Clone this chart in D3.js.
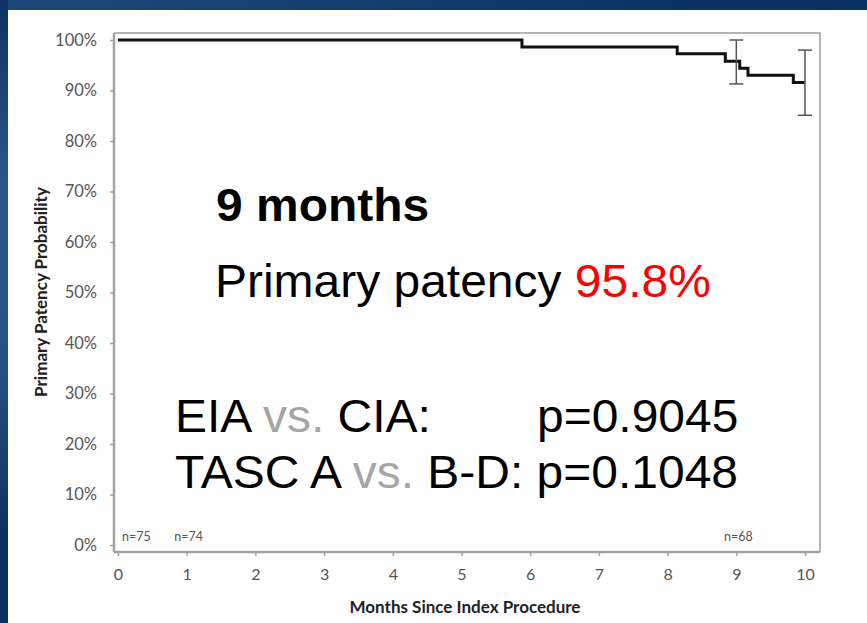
<!DOCTYPE html>
<html>
<head>
<meta charset="utf-8">
<script src="https://cdn.jsdelivr.net/npm/d3@7"></script>
<style>
  html, body { margin: 0; padding: 0; background: #0c3262; }
  svg { display: block; }
</style>
</head>
<body>
<div id="chart"></div>
<script>
// ---- data ----
const stepMonths = [0, 5.88, 8.14, 8.84, 9.05, 9.17, 9.83, 10];
const stepSurvival = [100, 98.6, 97.3, 95.8, 94.4, 93.0, 91.6, 91.6];
const ciMonths = [9, 10];
const ciLower = [91.3, 85.1];
const ciUpper = [100, 98.0];
const yTickValues = [0, 10, 20, 30, 40, 50, 60, 70, 80, 90, 100];
const xTickValues = [0, 1, 2, 3, 4, 5, 6, 7, 8, 9, 10];
const riskMonths = [0, 1, 9];
const riskLabels = ["n=75", "n=74", "n=68"];
const xTitle = "Months Since Index Procedure";
const yTitle = "Primary Patency Probability";

const W = 867, H = 623;
const svg = d3.select("#chart").append("svg").attr("width", W).attr("height", H);

// background (blue slide)
const defs = svg.append("defs");
const g1 = defs.append("linearGradient").attr("id", "bg").attr("x1", 0).attr("y1", 0).attr("x2", 1).attr("y2", 1);
g1.append("stop").attr("offset", "0%").attr("stop-color", "#1d4a7c");
g1.append("stop").attr("offset", "40%").attr("stop-color", "#0c3262");
g1.append("stop").attr("offset", "100%").attr("stop-color", "#0a2e5c");
svg.append("rect").attr("width", W).attr("height", H).attr("fill", "url(#bg)");
const g2 = defs.append("linearGradient").attr("id", "leftband").attr("x1", 0).attr("y1", 0).attr("x2", 0).attr("y2", 1);
g2.append("stop").attr("offset", "0%").attr("stop-color", "#0c3262");
g2.append("stop").attr("offset", "30%").attr("stop-color", "#2b5888");
g2.append("stop").attr("offset", "60%").attr("stop-color", "#24507f");
g2.append("stop").attr("offset", "85%").attr("stop-color", "#0c3262");
g2.append("stop").attr("offset", "100%").attr("stop-color", "#0c3262");
svg.append("rect").attr("x", 0).attr("y", 0).attr("width", 8).attr("height", H).attr("fill", "url(#leftband)");
// white panel
svg.append("rect").attr("x", 8).attr("y", 10).attr("width", W - 8).attr("height", H - 10).attr("fill", "#ffffff");

// scales
const x = d3.scaleLinear().domain([0, 10]).range([118, 805]);
const y = d3.scaleLinear().domain([0, 100]).range([545, 40]);

const frameL = 114, frameR = 820, frameT = 33, frameB = 552;
const axisColor = "#a3a3a3";
const labelColor = "#555555";
const tickFont = "Lato, 'Open Sans', sans-serif";

// frame (top/right)
svg.append("path")
  .attr("d", `M${frameL},${frameT}H${frameR}V${frameB}`)
  .attr("fill", "none").attr("stroke", "#b5b5b5").attr("stroke-width", 2);

// y axis
const yAxis = svg.append("g").attr("transform", `translate(${frameL},0)`)
  .call(d3.axisLeft(y).tickValues(yTickValues).tickFormat(d => d + "%").tickSize(4).tickPadding(13));
yAxis.select(".domain").remove();
yAxis.append("line").attr("x1", 0).attr("x2", 0).attr("y1", frameT).attr("y2", frameB)
  .attr("stroke", axisColor).attr("stroke-width", 2.5);
yAxis.selectAll(".tick line").attr("stroke", axisColor).attr("stroke-width", 1.5);
yAxis.selectAll(".tick text").attr("fill", labelColor).style("font-family", tickFont).style("font-size", "16.5px");

// x axis
const xAxis = svg.append("g").attr("transform", `translate(0,${frameB})`)
  .call(d3.axisBottom(x).tickValues(xTickValues).tickFormat(d3.format("d")).tickSize(4).tickPadding(13));
xAxis.select(".domain").remove();
xAxis.append("line").attr("x1", frameL).attr("x2", frameR).attr("y1", 0).attr("y2", 0)
  .attr("stroke", axisColor).attr("stroke-width", 2.5);
xAxis.selectAll(".tick line").attr("stroke", axisColor).attr("stroke-width", 1.5);
xAxis.selectAll(".tick text").attr("fill", labelColor).style("font-family", tickFont).style("font-size", "16px");

// axis titles
svg.append("text").attr("x", 465).attr("y", 613).attr("text-anchor", "middle")
  .style("font-family", tickFont).style("font-weight", "bold").style("font-size", "17px")
  .attr("fill", "#222").text(xTitle);
svg.append("text").attr("transform", "translate(47,292) rotate(-90)").attr("text-anchor", "middle")
  .style("font-family", tickFont).style("font-weight", "bold").style("font-size", "17px")
  .attr("fill", "#222").text(yTitle);

// KM step curve
const pts = stepMonths.map((m, i) => [m, stepSurvival[i]]);
svg.append("path").datum(pts)
  .attr("d", d3.line().x(d => x(d[0])).y(d => y(d[1])).curve(d3.curveStepAfter))
  .attr("fill", "none").attr("stroke", "#111").attr("stroke-width", 3);

// confidence interval bars
const ci = svg.append("g").attr("stroke", "#555").attr("stroke-width", 1.5);
ciMonths.forEach((m, i) => {
  ci.append("line").attr("x1", x(m)).attr("x2", x(m)).attr("y1", y(ciUpper[i])).attr("y2", y(ciLower[i]));
  ci.append("line").attr("x1", x(m) - 7).attr("x2", x(m) + 7).attr("y1", y(ciUpper[i])).attr("y2", y(ciUpper[i]));
  ci.append("line").attr("x1", x(m) - 7).attr("x2", x(m) + 7).attr("y1", y(ciLower[i])).attr("y2", y(ciLower[i]));
});

// at-risk labels
riskMonths.forEach((m, i) => {
  svg.append("text")
    .attr("x", i === 0 ? x(m) + 4 : x(m) + 2)
    .attr("y", 541)
    .attr("text-anchor", i === 0 ? "start" : "middle")
    .style("font-family", tickFont).style("font-size", "12.5px")
    .attr("fill", "#555").text(riskLabels[i]);
});

// annotations (slightly wide, as in the stretched slide)
const annFont = "'Liberation Sans', Arial, sans-serif";
const sx = 1.043;
function ann(xp, yp) {
  return svg.append("text").attr("transform", `translate(${xp},${yp}) scale(${sx},1)`)
    .style("font-family", annFont).style("font-size", "46px").attr("fill", "#000");
}
ann(216, 221).style("font-weight", "bold").text("9 months");
const t2 = ann(215, 297);
t2.append("tspan").text("Primary patency ");
t2.append("tspan").attr("fill", "#ff0000").text("95.8%");

const t3 = ann(175, 432);
t3.append("tspan").text("EIA ");
t3.append("tspan").attr("fill", "#a6a6a6").text("vs.");
t3.append("tspan").text(" CIA:");
ann(537, 432).text("p=0.9045");

const t4 = ann(175, 488);
t4.append("tspan").text("TASC A ");
t4.append("tspan").attr("fill", "#a6a6a6").text("vs.");
t4.append("tspan").text(" B-D: p=0.1048");
</script>
</body>
</html>
